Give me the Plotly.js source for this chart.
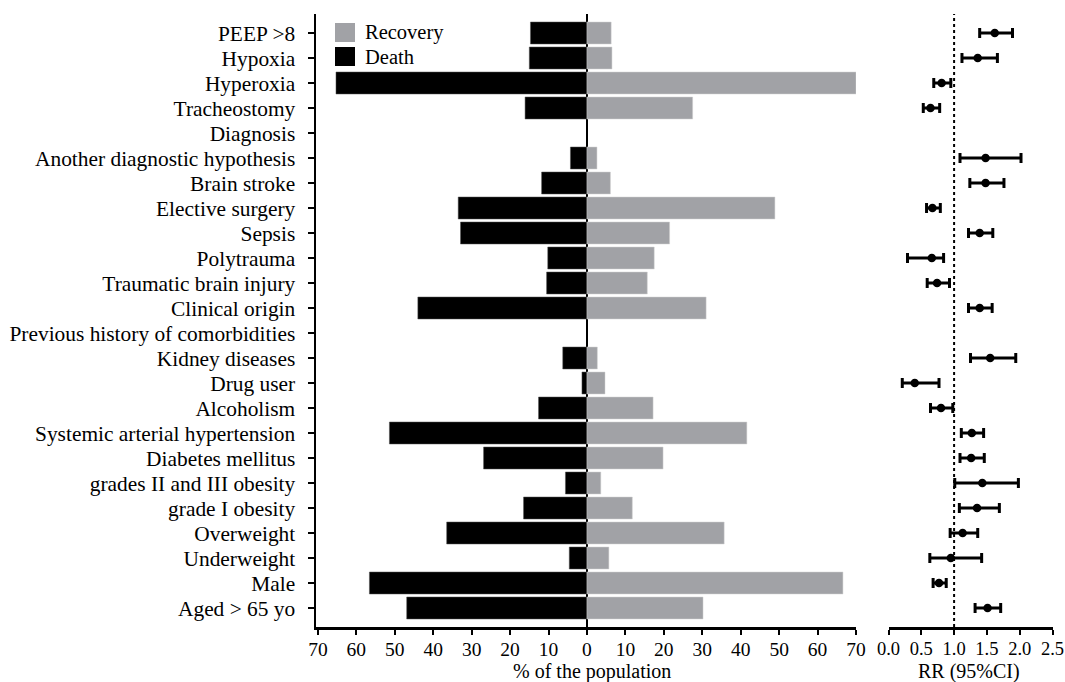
<!DOCTYPE html>
<html>
<head>
<meta charset="utf-8">
<script src="https://cdn.plot.ly/plotly-3.0.1.min.js"></script>
<style>html,body{margin:0;padding:0;background:#fff;}#chart{width:1065px;height:682px;}</style>
</head>
<body>
<div id="chart"></div>
<script>
// Categories, top to bottom
const categories = [
  "PEEP >8", "Hypoxia", "Hyperoxia", "Tracheostomy", "Diagnosis",
  "Another diagnostic hypothesis", "Brain stroke", "Elective surgery", "Sepsis",
  "Polytrauma", "Traumatic brain injury", "Clinical origin",
  "Previous history of comorbidities", "Kidney diseases", "Drug user", "Alcoholism",
  "Systemic arterial hypertension", "Diabetes mellitus", "grades II and III obesity",
  "grade I obesity", "Overweight", "Underweight", "Male", "Aged > 65 yo"
];
// % of the population (death shown to the left)
const deathPct = [14.7, 15.0, 65.3, 16.1, null, 4.3, 11.8, 33.5, 32.9, 10.2, 10.5, 44.0,
  null, 6.3, 1.3, 12.6, 51.4, 26.9, 5.6, 16.5, 36.5, 4.6, 56.6, 46.9];
const recoveryPct = [6.3, 6.5, 70.0, 27.5, null, 2.6, 6.1, 48.9, 21.5, 17.5, 15.7, 31.0,
  null, 2.7, 4.7, 17.2, 41.6, 19.8, 3.6, 11.8, 35.7, 5.7, 66.6, 30.2];
// Relative risk with 95% CI
const rr =   [1.62, 1.36, 0.81, 0.64, null, 1.48, 1.48, 0.67, 1.39, 0.66, 0.74, 1.39,
  null, 1.55, 0.40, 0.80, 1.27, 1.26, 1.43, 1.35, 1.13, 0.95, 0.77, 1.51];
const rrLow = [1.39, 1.12, 0.69, 0.53, null, 1.09, 1.24, 0.58, 1.22, 0.29, 0.59, 1.22,
  null, 1.25, 0.21, 0.64, 1.11, 1.09, 1.01, 1.08, 0.94, 0.63, 0.68, 1.32];
const rrHigh = [1.89, 1.66, 0.95, 0.78, null, 2.02, 1.76, 0.79, 1.59, 0.84, 0.93, 1.58,
  null, 1.94, 0.77, 0.98, 1.45, 1.46, 1.98, 1.69, 1.36, 1.42, 0.88, 1.71];
const pctTicks = [-70, -60, -50, -40, -30, -20, -10, 0, 10, 20, 30, 40, 50, 60, 70];
const rrTicks = [0, 0.5, 1, 1.5, 2, 2.5];
const xTitleLeft = "% of the population";
const xTitleRight = "RR (95%CI)";

const FONT = "Liberation Serif, Times New Roman, serif";
const W = 1065, H = 682;
const px = v => v / W;
const py = v => 1 - v / H;

const traces = [
  {
    type: "bar", orientation: "h", name: "Death",
    y: categories, x: deathPct.map(v => v == null ? null : -v),
    marker: {color: "#000000", line: {width: 0.5, color: "#555"}},
    width: 0.88, xaxis: "x", yaxis: "y", hoverinfo: "skip"
  },
  {
    type: "bar", orientation: "h", name: "Recovery",
    y: categories, x: recoveryPct,
    marker: {color: "#a1a2a6", line: {width: 0.5, color: "#d0d0d0"}},
    width: 0.88, xaxis: "x", yaxis: "y", hoverinfo: "skip"
  },
  {
    type: "scatter", mode: "markers", name: "RR",
    y: categories, x: rr,
    marker: {color: "#000", size: 8.5},
    error_x: {
      type: "data", symmetric: false,
      array: rr.map((v, i) => v == null ? null : rrHigh[i] - v),
      arrayminus: rr.map((v, i) => v == null ? null : v - rrLow[i]),
      color: "#000", thickness: 3, width: 5
    },
    xaxis: "x2", yaxis: "y", hoverinfo: "skip"
  }
];

const n = categories.length;
const layout = {
  width: W, height: H,
  margin: {l: 0, r: 0, t: 0, b: 0},
  paper_bgcolor: "#fff", plot_bgcolor: "rgba(0,0,0,0)",
  showlegend: false,
  barmode: "overlay",
  font: {family: FONT, color: "#000", size: 19},
  xaxis: {
    domain: [px(316), px(856)], anchor: "y",
    range: [-70.5, 70], tickmode: "array", tickvals: pctTicks, ticktext: pctTicks.map(v => String(Math.abs(v))),
    showgrid: false, zeroline: true, zerolinecolor: "#000", zerolinewidth: 2,
    showline: true, linecolor: "#000", linewidth: 2.5,
    ticks: "outside", ticklen: 5, tickwidth: 2, tickcolor: "#000",
    ticklabelstandoff: -2,
    tickfont: {family: FONT, size: 19.5, color: "#000"}
  },
  xaxis2: {
    domain: [px(888.5), px(1052.5)], anchor: "y",
    range: [0, 2.5], tickmode: "array", tickvals: rrTicks, ticktext: rrTicks.map(v => v.toFixed(1)),
    showgrid: false, zeroline: false,
    showline: true, linecolor: "#000", linewidth: 2.5,
    ticks: "outside", ticklen: 5, tickwidth: 2, tickcolor: "#000",
    ticklabelstandoff: -2,
    tickfont: {family: FONT, size: 18.5, color: "#000"}
  },
  yaxis: {
    domain: [1 - 627 / H, 1 - 14 / H], anchor: "x",
    type: "category", categoryorder: "array", categoryarray: categories,
    tickmode: "array", tickvals: categories, ticktext: categories,
    range: [n - 0.24, -0.76],
    showgrid: false, zeroline: false,
    showline: true, linecolor: "#000", linewidth: 2.5,
    ticks: "outside", ticklen: 6, tickwidth: 2, tickcolor: "#000",
    ticklabelstandoff: 8,
    tickfont: {family: FONT, size: 21.4, color: "#000"}
  },
  shapes: [
    {type: "line", xref: "x2", yref: "paper", x0: 1, x1: 1, y0: 1 - 627 / H, y1: 1 - 14 / H,
     line: {color: "#000", width: 2, dash: "dot"}},
    {type: "rect", xref: "paper", yref: "paper", x0: px(335), x1: px(355), y0: py(42), y1: py(23),
     fillcolor: "#a1a2a6", line: {width: 0}},
    {type: "rect", xref: "paper", yref: "paper", x0: px(335), x1: px(355), y0: py(66), y1: py(47),
     fillcolor: "#000", line: {width: 0}}
  ],
  annotations: [
    {xref: "paper", yref: "paper", x: px(363), y: py(33), xanchor: "left", yanchor: "middle",
     text: "Recovery", showarrow: false, font: {family: FONT, size: 20.5, color: "#000"}},
    {xref: "paper", yref: "paper", x: px(363), y: py(57), xanchor: "left", yanchor: "middle",
     text: "Death", showarrow: false, font: {family: FONT, size: 20.5, color: "#000"}},
    {xref: "paper", yref: "paper", x: px(592), y: py(671), xanchor: "center", yanchor: "middle",
     text: xTitleLeft, showarrow: false, font: {family: FONT, size: 20, color: "#000"}},
    {xref: "paper", yref: "paper", x: px(969), y: py(671), xanchor: "center", yanchor: "middle",
     text: xTitleRight, showarrow: false, font: {family: FONT, size: 20, color: "#000"}}
  ]
};

Plotly.newPlot("chart", traces, layout, {displayModeBar: false, staticPlot: true});
</script>
</body>
</html>
